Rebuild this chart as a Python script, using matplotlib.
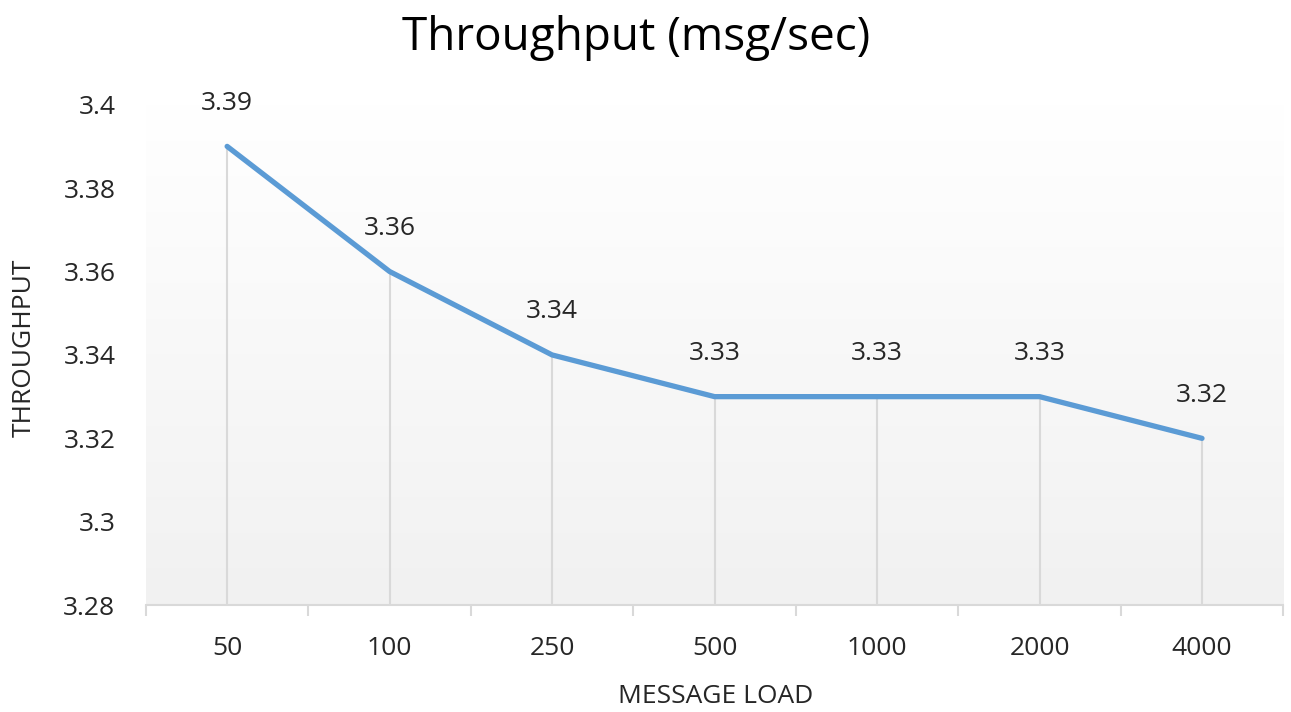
import matplotlib.pyplot as plt
import numpy as np
from matplotlib.colors import LinearSegmentedColormap

plt.rcParams['font.family'] = ['Open Sans', 'DejaVu Sans']

# dados
cargas = ["50", "100", "250", "500", "1000", "2000", "4000"]
throughput = [3.39, 3.36, 3.34, 3.33, 3.33, 3.33, 3.32]
y_ticks = [3.28, 3.3, 3.32, 3.34, 3.36, 3.38, 3.4]
y_labels = ["3.28", "3.3", "3.32", "3.34", "3.36", "3.38", "3.4"]

x = np.arange(len(cargas))
cor_texto = "#262626"

fig = plt.figure(figsize=(12.91, 7.12), dpi=100)
ax = fig.add_axes([0.113, 0.150, 0.881, 0.703])

ax.set_xlim(-0.5, len(cargas) - 0.5)
ax.set_ylim(3.28, 3.4)

# fundo em degradê (branco em cima, cinza claro embaixo)
grad = np.linspace(1.0, 0.0, 256).reshape(-1, 1)
cmap = LinearSegmentedColormap.from_list("g", ["#f1f1f1", "#ffffff"])
ax.imshow(grad, extent=[0, 1, 0, 1], transform=ax.transAxes, aspect='auto',
          cmap=cmap, zorder=0)

# linhas verticais até o eixo
ax.vlines(x, 3.28, throughput, color="#d9d9d9", linewidth=1.5, zorder=1)

ax.plot(x, throughput, color="#5b9bd5", linewidth=3.8, solid_capstyle="round",
        solid_joinstyle="round", zorder=3)

for xi, v in zip(x, throughput):
    ax.annotate(f"{v:.2f}", (xi, v), xytext=(0, 31), textcoords="offset points",
                ha="center", va="center", fontsize=19, color=cor_texto)

fig.text(0.493, 0.947, "Throughput (msg/sec)", fontsize=33, color="#000000",
         ha="center", va="center")
fig.text(0.554, 0.022, "MESSAGE LOAD", fontsize=19, color=cor_texto,
         ha="center", va="center")
fig.text(0.019, 0.511, "THROUGHPUT", fontsize=19, color=cor_texto,
         ha="center", va="center", rotation=90)

ax.set_yticks(y_ticks)
ax.set_yticklabels(y_labels, fontsize=19, color=cor_texto)
ax.tick_params(axis="y", length=0, pad=22)

ax.set_xticks(x)
ax.set_xticklabels(cargas, fontsize=19, color=cor_texto)
ax.tick_params(axis="x", which="major", length=0, pad=22)
ax.set_xticks(np.arange(-0.5, len(cargas)), minor=True)
ax.tick_params(axis="x", which="minor", length=8, width=1.5, color="#d9d9d9")

for s in ["top", "right", "left"]:
    ax.spines[s].set_visible(False)
ax.spines["bottom"].set_color("#d9d9d9")
ax.spines["bottom"].set_linewidth(1.5)

fig.savefig("out.png", dpi=100)
